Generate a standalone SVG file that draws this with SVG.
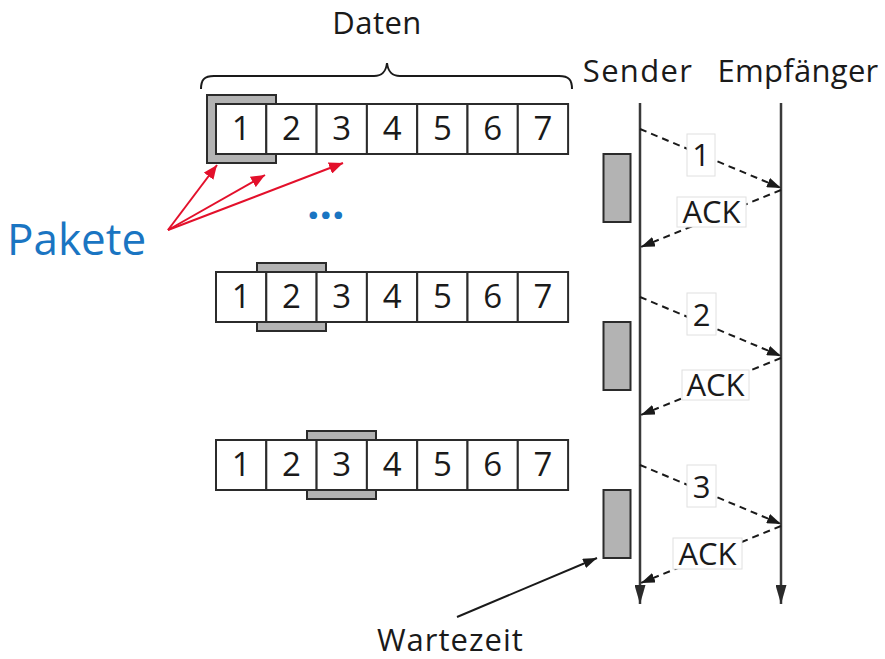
<svg xmlns="http://www.w3.org/2000/svg" width="885" height="659" viewBox="0 0 885 659">
  <defs>
    <style>
      .t { font-family: "Open Sans", "Liberation Sans", sans-serif; fill: #1a1a1a; }
      .cell { fill: #fff; stroke: #2b2b2b; stroke-width: 2; }
      .win { fill: #b3b3b3; stroke: #2b2b2b; stroke-width: 2; }
      .life { stroke: #3a3a3a; stroke-width: 2.5; fill: none; }
      .msg { stroke: #1a1a1a; stroke-width: 2; stroke-dasharray: 7 5; fill: none; }
      .lbl { fill: #fff; stroke: #e0e0e0; stroke-width: 1; }
      .red { stroke: #e3102b; stroke-width: 2; fill: none; }
    </style>
    <marker id="ah" viewBox="0 0 14 10" refX="14" refY="5" markerWidth="14" markerHeight="10" markerUnits="userSpaceOnUse" orient="auto">
      <path d="M0,0 L14,5 L0,10 Z" fill="#1a1a1a"/>
    </marker>
    <marker id="ahl" viewBox="0 0 19 11" refX="19" refY="5.5" markerWidth="19" markerHeight="11" markerUnits="userSpaceOnUse" orient="auto">
      <path d="M0,0 L19,5.5 L0,11 Z" fill="#2a2a2a"/>
    </marker>
    <marker id="ahr" viewBox="0 0 14 12" refX="14" refY="6" markerWidth="14" markerHeight="12" markerUnits="userSpaceOnUse" orient="auto">
      <path d="M0,0 L14,6 L0,12 Z" fill="#e3102b"/>
    </marker>
    <g id="row">
      <rect class="cell" x="216" y="0" width="50.3" height="50"/>
      <rect class="cell" x="266.3" y="0" width="50.3" height="50"/>
      <rect class="cell" x="316.6" y="0" width="50.3" height="50"/>
      <rect class="cell" x="366.9" y="0" width="50.3" height="50"/>
      <rect class="cell" x="417.2" y="0" width="50.3" height="50"/>
      <rect class="cell" x="467.5" y="0" width="50.3" height="50"/>
      <rect class="cell" x="517.8" y="0" width="50.3" height="50"/>
      <g class="t" font-size="33" text-anchor="middle">
        <text x="241.2" y="36">1</text>
        <text x="291.5" y="36">2</text>
        <text x="341.8" y="36">3</text>
        <text x="392.1" y="36">4</text>
        <text x="442.4" y="36">5</text>
        <text x="492.7" y="36">6</text>
        <text x="543" y="36">7</text>
      </g>
    </g>
  </defs>

  <rect width="885" height="659" fill="#fff"/>

  <!-- data brace and title -->
  <g id="daten">
    <text class="t" x="377" y="34" font-size="31" text-anchor="middle" letter-spacing="0.5">Daten</text>
    <path d="M201,89 C201,80 204,76 214,76 L374,76 C383,76 386,71 387,63 C388,71 391,76 400,76 L559,76 C569,76 572,80 572,89" fill="none" stroke="#1a1a1a" stroke-width="2"/>
  </g>

  <!-- row 1: window over packet 1 -->
  <g id="row1">
    <rect class="win" x="207" y="95" width="69" height="68"/>
    <use href="#row" y="104"/>
  </g>

  <!-- row 2: window over packet 2 -->
  <g id="row2">
    <rect class="win" x="257" y="263" width="69" height="68"/>
    <use href="#row" y="272"/>
  </g>

  <!-- row 3: window over packet 3 -->
  <g id="row3">
    <rect class="win" x="307" y="431" width="69" height="68"/>
    <use href="#row" y="440"/>
  </g>

  <!-- packets callout -->
  <g id="pakete">
    <text x="7" y="255" font-family="Open Sans, Liberation Sans, sans-serif" font-size="44" fill="#1a75c2">Pakete</text>
    <text x="307" y="219" font-family="Open Sans, Liberation Sans, sans-serif" font-size="44" font-weight="bold" fill="#1a75c2">...</text>
  </g>

  <!-- sender / receiver -->
  <g id="sender">
    <text class="t" x="638" y="82" font-size="31" text-anchor="middle" letter-spacing="1.3">Sender</text>
  </g>
  <g id="empfaenger">
    <text class="t" x="798" y="82" font-size="31" text-anchor="middle" letter-spacing="0.3">Empfänger</text>
  </g>

  <!-- waiting periods -->
  <g id="wait1"><rect class="win" x="603.5" y="154" width="27" height="68"/></g>
  <g id="wait2"><rect class="win" x="603.5" y="322" width="27" height="68"/></g>
  <g id="wait3"><rect class="win" x="603.5" y="490" width="27" height="68"/></g>

  <g id="wartezeit">
    <text class="t" x="377" y="651" font-size="31" letter-spacing="1">Wartezeit</text>
  </g>

  <!-- connectors -->
  <g id="connectors">
    <line class="red" x1="168" y1="230" x2="217" y2="165" marker-end="url(#ahr)"/>
    <line class="red" x1="168" y1="230" x2="265" y2="175" marker-end="url(#ahr)"/>
    <line class="red" x1="168" y1="230" x2="343" y2="163" marker-end="url(#ahr)"/>

    <line class="life" x1="640" y1="103" x2="640" y2="604" marker-end="url(#ahl)"/>
    <line class="life" x1="781" y1="103" x2="781" y2="604" marker-end="url(#ahl)"/>

    <line class="msg" x1="640" y1="129" x2="781" y2="188" marker-end="url(#ah)"/>
    <line class="msg" x1="781" y1="190" x2="641" y2="247" marker-end="url(#ah)"/>
    <line class="msg" x1="640" y1="297" x2="781" y2="356" marker-end="url(#ah)"/>
    <line class="msg" x1="781" y1="358" x2="641" y2="415" marker-end="url(#ah)"/>
    <line class="msg" x1="640" y1="465" x2="781" y2="524" marker-end="url(#ah)"/>
    <line class="msg" x1="781" y1="526" x2="641" y2="583" marker-end="url(#ah)"/>

    <line x1="457" y1="617" x2="597" y2="558" stroke="#1a1a1a" stroke-width="2" marker-end="url(#ah)"/>

    <!-- message labels -->
    <rect class="lbl" x="687" y="134" width="28" height="42"/>
    <text class="t" x="701" y="166" font-size="31" text-anchor="middle">1</text>
    <rect class="lbl" x="677" y="197" width="69" height="30"/>
    <text class="t" x="711.5" y="223" font-size="31" text-anchor="middle">ACK</text>

    <rect class="lbl" x="687" y="293" width="29" height="42"/>
    <text class="t" x="701.5" y="326" font-size="31" text-anchor="middle">2</text>
    <rect class="lbl" x="682" y="370" width="67" height="30"/>
    <text class="t" x="715.5" y="396" font-size="31" text-anchor="middle">ACK</text>

    <rect class="lbl" x="687" y="465" width="29" height="42"/>
    <text class="t" x="701.5" y="498" font-size="31" text-anchor="middle">3</text>
    <rect class="lbl" x="673" y="538" width="69" height="31"/>
    <text class="t" x="707.5" y="565" font-size="31" text-anchor="middle">ACK</text>
  </g>
</svg>
